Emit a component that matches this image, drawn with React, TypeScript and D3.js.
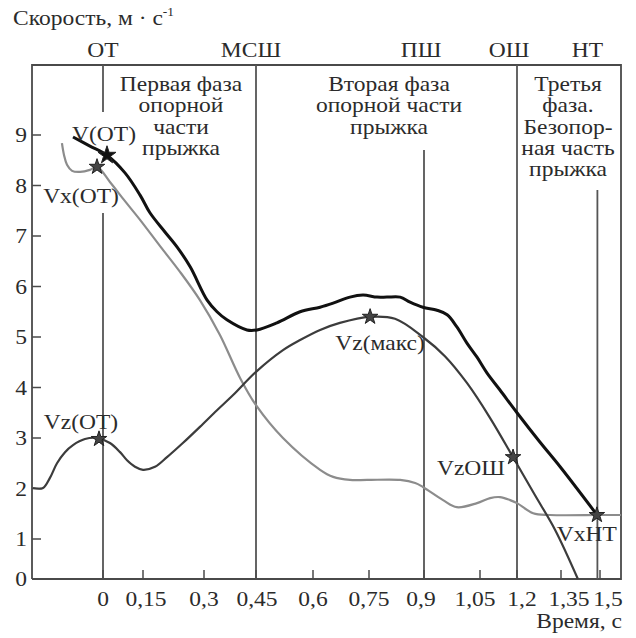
import React from 'react';
import * as d3 from 'd3';

// ---------- data ----------
const X_TICKS = [0, 0.15, 0.3, 0.45, 0.6, 0.75, 0.9, 1.05, 1.2, 1.35, 1.5];
const X_TICK_LABELS = ['0', '0,15', '0,3', '0,45', '0,6', '0,75', '0,9', '1,05', '1,2', '1,35', '1,5'];
const Y_TICKS = [0, 1, 2, 3, 4, 5, 6, 7, 8, 9];

// V (total speed)
const tV = [-0.1125, -0.049, 0.015, 0.0825, 0.139, 0.167, 0.204, 0.234, 0.266, 0.309, 0.3375, 0.366, 0.424, 0.4526, 0.505, 0.566, 0.619, 0.654, 0.699, 0.734, 0.772, 0.799, 0.835, 0.862, 0.897, 0.935, 0.962, 0.988, 1.015, 1.042, 1.078, 1.131, 1.2, 1.278, 1.347, 1.488];
const vV = [8.96, 8.78, 8.6, 8.25, 7.81, 7.46, 7.08, 6.78, 6.39, 5.73, 5.5, 5.34, 5.14, 5.14, 5.28, 5.5, 5.59, 5.67, 5.79, 5.83, 5.79, 5.79, 5.79, 5.69, 5.59, 5.53, 5.44, 5.2, 4.88, 4.6, 4.29, 3.95, 3.5, 2.92, 2.43, 1.48];

// Vx (horizontal speed)
const tVx = [-0.154, -0.146, -0.135, -0.116, -0.086, -0.049, -0.0225, 0.026, 0.0825, 0.139, 0.192, 0.241, 0.29, 0.346, 0.404, 0.45, 0.521, 0.619, 0.654, 0.699, 0.745, 0.835, 0.876, 0.897, 0.951, 0.988, 1.042, 1.091, 1.131, 1.172, 1.2, 1.255, 1.312, 1.5, 1.581];
const vVx = [8.84, 8.6, 8.41, 8.29, 8.27, 8.31, 8.37, 8.07, 7.69, 7.32, 6.8, 6.29, 5.73, 5.04, 4.19, 3.65, 3.0, 2.37, 2.23, 2.17, 2.17, 2.17, 2.11, 2.03, 1.77, 1.63, 1.71, 1.81, 1.83, 1.77, 1.71, 1.51, 1.475, 1.475, 1.475];

// Vz (vertical speed)
const tVz = [-0.2625, -0.225, -0.199, -0.1725, -0.1425, -0.1125, -0.0675, -0.0225, 0.026, 0.064, 0.09, 0.12, 0.15, 0.1795, 0.209, 0.248, 0.29, 0.3375, 0.384, 0.45, 0.521, 0.566, 0.619, 0.672, 0.753, 0.821, 0.897, 0.956, 1.015, 1.0905, 1.184, 1.261, 1.33, 1.415];
const vVz = [2.01, 2.01, 2.21, 2.5, 2.72, 2.86, 2.98, 3.0, 2.9, 2.72, 2.56, 2.43, 2.37, 2.43, 2.62, 2.9, 3.22, 3.55, 3.85, 4.31, 4.74, 4.94, 5.14, 5.28, 5.4, 5.36, 5.0, 4.62, 4.09, 3.4, 2.62, 1.87, 1.18, 0];

// key events (top labels + vertical lines)
const EVENT_LABELS = ['ОТ', 'МСШ', 'ПШ', 'ОШ', 'НТ'];
const EVENT_T = [0, 0.45, 0.9, 1.2, 1.49];

// marked points
const STAR_LABELS = ['V(ОТ)', 'Vx(ОТ)', 'Vz(ОТ)', 'Vz(макс)', 'VzОШ', 'VxНТ'];
const STAR_T = [0.015, -0.0225, -0.015, 0.753, 1.184, 1.488];
const STAR_V = [8.6, 8.37, 2.98, 5.4, 2.62, 1.475];

// phase captions
const PHASE_1 = ['Первая фаза', 'опорной', 'части', 'прыжка'];
const PHASE_2 = ['Вторая фаза', 'опорной части', 'прыжка'];
const PHASE_3 = ['Третья', 'фаза.', 'Безопор-', 'ная часть', 'прыжка'];

// ---------- layout ----------
const W = 636, H = 638;
const LEFT = 32, RIGHT = 621, TOP = 65, BOTTOM = 579;
const X_TICK_PX = [103, 143, 204, 256, 313, 369, 424, 480, 517, 561, 600];
const X_LABEL_DX = [0, 3, 0, 1, 0, 0, -3, -5, 5, 8, 8];
const FONT = "'Liberation Serif', 'Times New Roman', serif";
const TXT = '#2b2b2b';
const SX = 1.12;

const x = d3.scaleLinear().domain(X_TICKS).range(X_TICK_PX);
const y = d3.scaleLinear().domain([0, 1, 9]).range([BOTTOM, 539, 135]);

function T({ x: px, y: py, anchor = 'middle', size = 21, children }: any) {
  return (
    <text
      transform={`translate(${px},${py}) scale(${SX},1)`}
      textAnchor={anchor}
      fontFamily={FONT}
      fontSize={size}
      fill={TXT}
    >
      {children}
    </text>
  );
}

const line = d3
  .line<[number, number]>()
  .x((d) => x(d[0]))
  .y((d) => y(d[1]))
  .curve(d3.curveCatmullRom.alpha(0.5));

const zip = (a: number[], b: number[]) => a.map((t, i) => [t, b[i]] as [number, number]);

const star = d3.symbol().type(d3.symbolStar);

// vertical extents of event lines (pixel layout)
const EVENT_SEGS: number[][][] = [
  [[TOP, 112], [213, BOTTOM]],
  [[TOP, BOTTOM]],
  [[150, BOTTOM]],
  [[TOP, BOTTOM]],
  [[190, BOTTOM]],
];
const EVENT_LABEL_DX = [0, -5, -3, -8, -10];

// label offsets relative to stars
const STAR_DX = [-3, -16, -18, 10, -8, -10];
const STAR_DY = [-14, 36, -10, 33, 18, 26];
const STAR_ANCHOR = ['middle', 'middle', 'middle', 'middle', 'end', 'middle'];
const STAR_SIZE = [100, 75, 75, 75, 75, 75];

export default function App() {
  return (
    <svg
      width={W}
      height={H}
      style={{ position: 'absolute', left: 0, top: 0, background: '#fff' }}
    >
      <rect x={0} y={0} width={W} height={H} fill="#fff" />

      {/* axis title */}
      <text
        transform={`translate(13,25) scale(${SX},1)`}
        fontFamily={FONT}
        fontSize={21}
        fill={TXT}
      >
        Скорость, м · с
        <tspan fontSize={12} dy={-9}>-1</tspan>
      </text>

      {/* event labels */}
      {EVENT_LABELS.map((l, i) => (
        <T key={l} x={x(EVENT_T[i]) + EVENT_LABEL_DX[i]} y={57}>
          {l}
        </T>
      ))}

      {/* frame */}
      <path
        d={`M${LEFT},${BOTTOM}V${TOP}H${RIGHT}V${BOTTOM}H${LEFT}`}
        fill="none"
        stroke="#4a4a4a"
        strokeWidth={1.8}
      />

      {/* event lines */}
      {EVENT_T.map((t, i) =>
        EVENT_SEGS[i].map((s, j) => (
          <line
            key={`${i}-${j}`}
            x1={x(t)}
            x2={x(t)}
            y1={s[0]}
            y2={s[1]}
            stroke="#555"
            strokeWidth={1.8}
          />
        ))
      )}

      {/* y ticks */}
      {Y_TICKS.map((v) => (
        <g key={v}>
          {v > 0 && (
            <line x1={LEFT} x2={LEFT + 9} y1={y(v)} y2={y(v)} stroke="#4a4a4a" strokeWidth={1.5} />
          )}
          <T x={27} y={y(v) + 7} anchor="end">
            {String(v)}
          </T>
        </g>
      ))}

      {/* x ticks */}
      {X_TICKS.map((t, i) => (
        <g key={t}>
          <line x1={x(t)} x2={x(t)} y1={BOTTOM} y2={BOTTOM - 9} stroke="#4a4a4a" strokeWidth={1.5} />
          <T x={x(t) + X_LABEL_DX[i]} y={606}>
            {X_TICK_LABELS[i]}
          </T>
        </g>
      ))}
      <T x={622} y={628} anchor="end">
        Время, с
      </T>

      {/* phase captions */}
      {PHASE_1.map((s, i) => (
        <T key={'p1' + i} x={181} y={91 + i * 21.3}>
          {s}
        </T>
      ))}
      {PHASE_2.map((s, i) => (
        <T key={'p2' + i} x={389} y={91 + i * 21.3}>
          {s}
        </T>
      ))}
      {PHASE_3.map((s, i) => (
        <T key={'p3' + i} x={568} y={91 + i * 21.3}>
          {s}
        </T>
      ))}

      {/* curves */}
      <path d={line(zip(tVx, vVx)) || ''} fill="none" stroke="#8c8c8c" strokeWidth={2.2} />
      <path d={line(zip(tVz, vVz)) || ''} fill="none" stroke="#3c3c3c" strokeWidth={2.2} />
      <path d={line(zip(tV, vV)) || ''} fill="none" stroke="#111" strokeWidth={3} />

      {/* stars + labels */}
      {STAR_T.map((t, i) => (
        <g key={'s' + i}>
          <path
            d={star.size(STAR_SIZE[i])() || ''}
            transform={`translate(${x(t)},${y(STAR_V[i])})`}
            fill={i === 0 ? '#111' : '#444'}
            stroke="#222"
            strokeWidth={1}
          />
          <T x={x(t) + STAR_DX[i]} y={y(STAR_V[i]) + STAR_DY[i]} anchor={STAR_ANCHOR[i]}>
            {STAR_LABELS[i]}
          </T>
        </g>
      ))}
    </svg>
  );
}
